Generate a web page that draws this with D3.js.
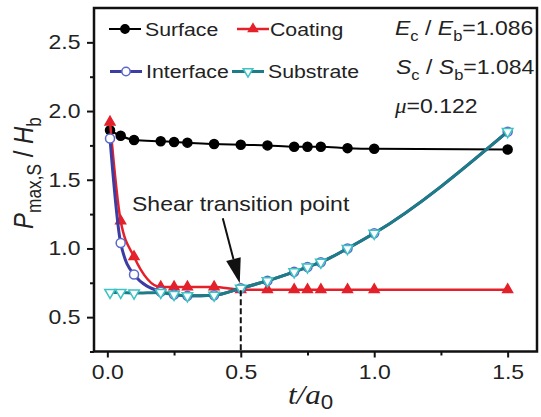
<!DOCTYPE html>
<html>
<head>
<meta charset="utf-8">
<script src="https://cdn.jsdelivr.net/npm/d3@7"></script>
<style>
  html, body { margin: 0; padding: 0; background: #fff; }
  svg { display: block; font-family: "Liberation Sans", Arial, sans-serif; }
</style>
</head>
<body>
<div id="chart"></div>
<script>
// Normalised thickness t/a0 at which each curve was evaluated
const thickness = [0.01, 0.05, 0.1, 0.2, 0.25, 0.3, 0.4, 0.5, 0.6, 0.7, 0.75, 0.8, 0.9, 1.0, 1.5];

// P_max,S / H_b for the four yield locations
const surfaceVals   = [1.86, 1.82, 1.79, 1.78, 1.775, 1.77, 1.76, 1.755, 1.75, 1.74, 1.74, 1.74, 1.73, 1.725, 1.72];
const coatingVals   = [1.92, 1.20, 0.94, 0.72, 0.72, 0.72, 0.72, 0.70, 0.70, 0.70, 0.70, 0.70, 0.70, 0.70, 0.70];
const interfaceVals = [1.80, 1.04, 0.81, 0.685, 0.665, 0.655, 0.66, 0.71, 0.765, 0.83, 0.865, 0.90, 1.00, 1.11, 1.85];
const substrateVals = [0.68, 0.68, 0.675, 0.68, 0.665, 0.655, 0.66, 0.71, 0.765, 0.83, 0.865, 0.90, 1.00, 1.11, 1.85];

const seriesNames = ["Surface", "Coating", "Interface", "Substrate"];

const xMajorTicks = [0, 0.5, 1.0, 1.5];
const xMinorTicks = [0.25, 0.75, 1.25];
const yMajorTicks = [0.5, 1.0, 1.5, 2.0, 2.5];
const yMinorTicks = [0.25, 0.75, 1.25, 1.75, 2.25];

// Transition point marked by the arrow
const transitionT = 0.5;
const transitionP = 0.71;

const W = 541, H = 417;
const SX = 1.15; // horizontal text stretch
const frame = { left: 94, right: 537, top: 8, bottom: 351.5 };

const svg = d3.select("#chart").append("svg").attr("width", W).attr("height", H);

const x = d3.scaleLinear().domain([-0.05, 1.61]).range([frame.left, frame.right]);
const y = d3.scaleLinear().domain([0.25, 2.75]).range([frame.bottom, frame.top]);

// ---- axes ----
const xAxis = svg.append("g").attr("transform", `translate(0,${frame.bottom})`)
  .call(d3.axisBottom(x).tickValues(xMajorTicks).tickSize(6).tickPadding(7.5).tickFormat(d3.format(".1f")));
const xMinor = svg.append("g").attr("transform", `translate(0,${frame.bottom})`)
  .call(d3.axisBottom(x).tickValues(xMinorTicks).tickSize(4).tickFormat(""));
const yAxis = svg.append("g").attr("transform", `translate(${frame.left},0)`)
  .call(d3.axisLeft(y).tickValues(yMajorTicks).tickSize(7).tickPadding(6.5).tickFormat(d3.format(".1f")));
const yMinor = svg.append("g").attr("transform", `translate(${frame.left},0)`)
  .call(d3.axisLeft(y).tickValues(yMinorTicks).tickSize(4).tickFormat(""));

[xAxis, xMinor, yAxis, yMinor].forEach(a => {
  a.select(".domain").remove();
  a.selectAll(".tick line").attr("stroke", "#111").attr("stroke-width", 2);
});
[xAxis, yAxis].forEach(a => {
  a.selectAll(".tick text")
    .attr("font-size", 20)
    .attr("font-family", "Liberation Sans, Arial, sans-serif")
    .attr("fill", "#222")
    .attr("transform", `scale(${SX},1)`);
});
// keep the left labels' right edge at the padded position after stretching
yAxis.selectAll(".tick text").attr("x", -(7 + 6.5) / SX);

// ---- rich text helper (italics + subscripts) ----
function richText(parent, px, py, size, parts, opts = {}) {
  const rot = opts.rotate ? ` rotate(${opts.rotate})` : "";
  const subShift = opts.subShift !== undefined ? opts.subShift : 0.3;
  const t = parent.append("text")
    .attr("transform", `translate(${px},${py}) scale(${SX},1)${rot}`)
    .attr("font-size", size)
    .attr("fill", opts.fill || "#222")
    .attr("text-anchor", opts.anchor || "start");
  let shift = 0;
  parts.forEach(p => {
    const target = p.sub ? size * subShift : 0;
    const ts = t.append("tspan").text(p.t).attr("dy", target - shift);
    shift = target;
    if (p.sub) ts.attr("font-size", size * 0.72);
    if (p.it) ts.attr("font-style", "italic");
    if (p.font) ts.attr("font-family", p.font);
  });
  return t;
}

// ---- series ----
const styles = {
  Surface:   { line: "#000000", lw: 2,   sym: d3.symbolCircle,   size: 64, fill: "#000", stroke: "#000", rot: 0 },
  Coating:   { line: "#e4202a", lw: 2.5, sym: d3.symbolTriangle, size: 42, fill: "#e4202a", stroke: "#e4202a", rot: 0 },
  Interface: { line: "#3c3ca2", lw: 3,   sym: d3.symbolCircle,   size: 64, fill: "#fff", stroke: "#5a68cc", rot: 0 },
  Substrate: { line: "#1d7d86", lw: 3,   sym: d3.symbolTriangle, size: 48, fill: "#fff", stroke: "#3ec2c2", rot: 180 }
};
const valuesByName = { Surface: surfaceVals, Coating: coatingVals, Interface: interfaceVals, Substrate: substrateVals };

const line = d3.line().x(d => x(d[0])).y(d => y(d[1])).curve(d3.curveMonotoneX);
const plot = svg.append("g");

seriesNames.forEach(name => {
  const st = styles[name];
  const pts = thickness.map((t, i) => [t, valuesByName[name][i]]);
  plot.append("path").datum(pts)
    .attr("d", line).attr("fill", "none")
    .attr("stroke", st.line).attr("stroke-width", st.lw)
    .attr("stroke-linejoin", "round");
  plot.selectAll(null).data(pts).enter().append("path")
    .attr("d", d3.symbol().type(st.sym).size(st.size))
    .attr("transform", d => `translate(${x(d[0])},${y(d[1])}) rotate(${st.rot})`)
    .attr("fill", st.fill).attr("stroke", st.stroke).attr("stroke-width", 1.5);
});

// ---- frame ----
svg.append("rect")
  .attr("x", frame.left).attr("y", frame.top)
  .attr("width", frame.right - frame.left).attr("height", frame.bottom - frame.top)
  .attr("fill", "none").attr("stroke", "#111").attr("stroke-width", 2.5);

// ---- transition marker: dashed drop line + arrow ----
const tx = x(transitionT), ty = y(transitionP);
svg.append("line")
  .attr("x1", tx).attr("x2", tx).attr("y1", ty + 2).attr("y2", frame.bottom)
  .attr("stroke", "#111").attr("stroke-width", 2).attr("stroke-dasharray", "6,3");

const tip = [tx - 1, ty - 5];
const tail = [tx - 18, ty - 70];
const ang = Math.atan2(tip[1] - tail[1], tip[0] - tail[0]);
const headLen = 25, headHalf = 7.5;
const bx = tip[0] - headLen * Math.cos(ang), by = tip[1] - headLen * Math.sin(ang);
svg.append("line")
  .attr("x1", tail[0]).attr("y1", tail[1]).attr("x2", bx).attr("y2", by)
  .attr("stroke", "#111").attr("stroke-width", 2);
svg.append("path")
  .attr("d", `M${tip[0]},${tip[1]} L${bx + headHalf * Math.sin(ang)},${by - headHalf * Math.cos(ang)} L${bx - headHalf * Math.sin(ang)},${by + headHalf * Math.cos(ang)} Z`)
  .attr("fill", "#111");

richText(svg, 132, 211, 20, [{ t: "Shear transition point" }]);

// ---- legend ----
const legendItems = [
  { name: "Surface",   lx: 109, ly: 29,  tx: 145 },
  { name: "Coating",   lx: 237, ly: 29,  tx: 270 },
  { name: "Interface", lx: 110, ly: 71.5, tx: 146 },
  { name: "Substrate", lx: 232, ly: 71.5, tx: 268 }
];
const legend = svg.append("g");
legendItems.forEach(it => {
  const st = styles[it.name];
  legend.append("line")
    .attr("x1", it.lx).attr("x2", it.lx + 32).attr("y1", it.ly).attr("y2", it.ly)
    .attr("stroke", st.line).attr("stroke-width", st.lw);
  legend.append("path")
    .attr("d", d3.symbol().type(st.sym).size(st.size * 0.85))
    .attr("transform", `translate(${it.lx + 16},${it.ly}) rotate(${st.rot})`)
    .attr("fill", st.fill).attr("stroke", st.stroke).attr("stroke-width", 1.5);
  richText(legend, it.tx, it.ly + 6.5, 18.5, [{ t: it.name }]);
});

// ---- material parameters ----
richText(svg, 395, 35, 20, [
  { t: "E", it: true }, { t: "c", sub: true }, { t: " / " }, { t: "E", it: true }, { t: "b", sub: true }, { t: "=1.086" }
]);
richText(svg, 396, 74, 20, [
  { t: "S", it: true }, { t: "c", sub: true }, { t: " / " }, { t: "S", it: true }, { t: "b", sub: true }, { t: "=1.084" }
]);
richText(svg, 395, 113, 20, [
  { t: "μ", it: true, font: "Liberation Serif, serif" }, { t: "=0.122" }
]);

// ---- axis titles ----
richText(svg, 288, 404, 27, [
  { t: "t/a", it: true, font: "Liberation Serif, serif" }, { t: "0", sub: true }
], { subShift: 0.2 });
richText(svg, 33, 173, 24, [
  { t: "P", it: true }, { t: "max,S", sub: true }, { t: " / " }, { t: "H", it: true }, { t: "b", sub: true }
], { rotate: -90, anchor: "middle" });
</script>
</body>
</html>
